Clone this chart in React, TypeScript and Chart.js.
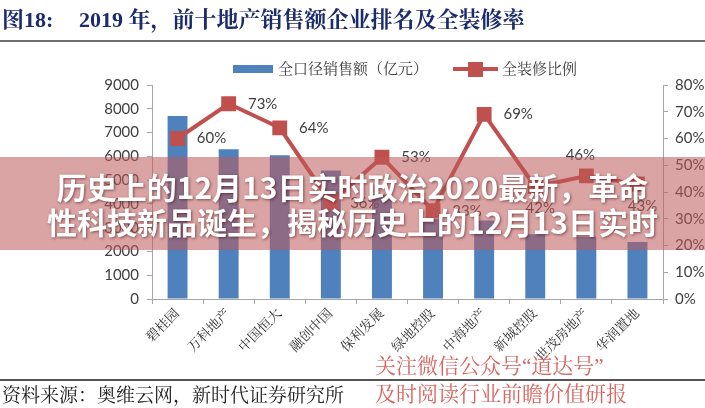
import React, { useEffect, useRef } from 'react';
import { Chart, registerables } from 'chart.js';

Chart.register(...registerables);

const categories = ['碧桂园', '万科地产', '中国恒大', '融创中国', '保利发展', '绿地控股', '中海地产', '新城控股', '世茂房地产', '华润置地'];
const salesValues = [7700, 6300, 6050, 5400, 4400, 3380, 3300, 2720, 2620, 2400];
const fitoutRatio = [60, 73, 64, 36, 53, 33, 69, 42, 46, 43];
const leftTicks = [0, 1000, 2000, 3000, 4000, 5000, 6000, 7000, 8000, 9000];
const rightTicks = [0, 10, 20, 30, 40, 50, 60, 70, 80];
const labelPlacement = ['right', 'right', 'right', 'right', 'right', 'right', 'right', 'below', 'above', 'below'];

const BLUE = '#4f81bd';
const RED = '#c0504d';
const AXIS = '#a6a6a6';
const TEXT = '#404040';
const LATIN_SANS = 'Lato, "Open Sans", sans-serif';
const CJK_SERIF = '"Liberation Serif", "Noto Serif CJK SC", "Noto Sans CJK SC", serif';

const pointLabelPlugin = {
  id: 'pointLabels',
  afterDatasetsDraw(chart: any) {
    const ctx = chart.ctx;
    const meta = chart.getDatasetMeta(1);
    ctx.save();
    ctx.font = '15px ' + LATIN_SANS;
    ctx.fillStyle = TEXT;
    ctx.textAlign = 'center';
    ctx.textBaseline = 'middle';
    meta.data.forEach((pt: any, i: number) => {
      const v = fitoutRatio[i];
      const place = labelPlacement[i];
      let dx = 34, dy = 0;
      if (place === 'above') { dx = -6; dy = -21; }
      if (place === 'below') { dx = 5; dy = 22; }
      ctx.fillText(v + '%', pt.x + dx, pt.y + dy);
    });
    ctx.restore();
  },
};

function Txt(props: { x: number; cy: number; size: number; color: string; family: string; weight?: string | number; children: any; extra?: any }) {
  const lh = Math.round(props.size * 1.4);
  return (
    <div
      style={{
        position: 'absolute',
        left: props.x,
        top: props.cy - lh / 2,
        fontSize: props.size,
        lineHeight: lh + 'px',
        color: props.color,
        fontFamily: props.family,
        fontWeight: props.weight ?? 'normal',
        whiteSpace: 'nowrap',
        ...(props.extra || {}),
      }}
    >
      {props.children}
    </div>
  );
}

export default function App() {
  const ref = useRef<HTMLCanvasElement>(null);

  useEffect(() => {
    const canvas = ref.current!;
    const chart = new Chart(canvas, {
      type: 'bar',
      data: {
        labels: categories,
        datasets: [
          {
            type: 'bar',
            label: '全口径销售额（亿元）',
            data: salesValues,
            backgroundColor: BLUE,
            borderWidth: 0,
            yAxisID: 'y',
            order: 1,
            categoryPercentage: 1,
            barPercentage: 0.39,
          },
          {
            type: 'line',
            label: '全装修比例',
            data: fitoutRatio,
            borderColor: RED,
            backgroundColor: RED,
            borderWidth: 4,
            pointStyle: 'rect',
            pointRadius: 10.5,
            pointBackgroundColor: RED,
            pointBorderColor: RED,
            pointBorderWidth: 0,
            tension: 0,
            yAxisID: 'y1',
            order: 0,
          } as any,
        ],
      },
      options: {
        responsive: false,
        animation: false,
        devicePixelRatio: 1,
        layout: { padding: { top: 85, left: 0, right: 0, bottom: 0 } },
        plugins: {
          legend: { display: false },
          tooltip: { enabled: false },
          title: { display: false },
        },
        scales: {
          x: {
            grid: { offset: true, drawOnChartArea: false, drawTicks: true, tickLength: 5, color: AXIS },
            border: { display: true, color: AXIS, width: 1 },
            ticks: {
              autoSkip: false,
              minRotation: 45,
              maxRotation: 45,
              padding: 2,
              color: '#333333',
              font: { family: CJK_SERIF, size: 13.5 },
            },
            afterFit: (s: any) => { s.height = 109; },
          },
          y: {
            position: 'left',
            min: 0,
            max: 9000,
            afterBuildTicks: (s: any) => { s.ticks = leftTicks.map((v) => ({ value: v })); },
            grid: { drawOnChartArea: false, drawTicks: true, tickLength: 5, color: AXIS },
            border: { display: true, color: AXIS, width: 1 },
            ticks: {
              padding: 8,
              color: TEXT,
              font: { family: LATIN_SANS, size: 15 },
              callback: (v: any) => String(v),
            },
            afterFit: (s: any) => { s.width = 152; },
          },
          y1: {
            position: 'right',
            min: 0,
            max: 80,
            afterBuildTicks: (s: any) => { s.ticks = rightTicks.map((v) => ({ value: v })); },
            grid: { drawOnChartArea: false, drawTicks: true, tickLength: 5, color: AXIS },
            border: { display: true, color: AXIS, width: 1 },
            ticks: {
              padding: 7,
              color: TEXT,
              font: { family: LATIN_SANS, size: 15 },
              callback: (v: any) => v + '%',
            },
            afterFit: (s: any) => { s.width = 42; },
          },
        },
      } as any,
      plugins: [pointLabelPlugin],
    });
    return () => chart.destroy();
  }, []);

  return (
    <div style={{ position: 'absolute', left: 0, top: 0, width: 705, height: 408, background: '#ffffff', overflow: 'hidden' }}>
      <canvas ref={ref} width={705} height={408} style={{ position: 'absolute', left: 0, top: 0, width: 705, height: 408 }} />

      {/* title */}
      <Txt x={2} cy={19} size={22} color="#1c2b6b" family={CJK_SERIF} weight="bold">图18:</Txt>
      <Txt x={79} cy={19} size={22} color="#1c2b6b" family={CJK_SERIF} weight="bold">2019 年，前十地产销售额企业排名及全装修率</Txt>
      <div style={{ position: 'absolute', left: 0, top: 40, width: 705, height: 2, background: '#6e6e6e' }} />

      {/* legend */}
      <div style={{ position: 'absolute', left: 233, top: 65, width: 40, height: 8, background: BLUE }} />
      <Txt x={278} cy={69} size={15} color={TEXT} family={CJK_SERIF}>全口径销售额（亿元）</Txt>
      <div style={{ position: 'absolute', left: 453, top: 67, width: 45, height: 4, background: RED }} />
      <div style={{ position: 'absolute', left: 468, top: 62, width: 15, height: 15, background: RED }} />
      <Txt x={502} cy={69} size={15} color={TEXT} family={CJK_SERIF}>全装修比例</Txt>

      {/* banner overlay */}
      <div
        style={{
          position: 'absolute',
          left: 0,
          top: 157,
          width: 705,
          height: 93,
          background: 'rgba(190, 90, 90, 0.55)',
        }}
      >
        <div
          style={{
            position: 'absolute',
            left: 0,
            top: 12,
            width: 705,
            textAlign: 'center',
            color: '#ffffff',
            fontFamily: '"Noto Sans CJK SC", sans-serif',
            fontWeight: 'bold',
            fontSize: 30,
            lineHeight: '35px',
            textShadow: '1px 1px 3px rgba(60,0,0,0.55)',
            whiteSpace: 'nowrap',
          }}
        >
          <div>历史上的12月13日实时政治2020最新，革命</div>
          <div>性科技新品诞生，揭秘历史上的12月13日实时</div>
        </div>
      </div>

      {/* footer */}
      <div style={{ position: 'absolute', left: 0, top: 379, width: 705, height: 2, background: '#555555' }} />
      <Txt x={2} cy={395} size={19} color="#222222" family={CJK_SERIF}>资料来源：奥维云网，新时代证券研究所</Txt>
      <Txt x={375} cy={366} size={21} color="#d9635f" family={CJK_SERIF}>关注微信公众号“道达号”</Txt>
      <Txt x={375} cy={394} size={21} color="#d9635f" family={CJK_SERIF}>及时阅读行业前瞻价值研报</Txt>
    </div>
  );
}
